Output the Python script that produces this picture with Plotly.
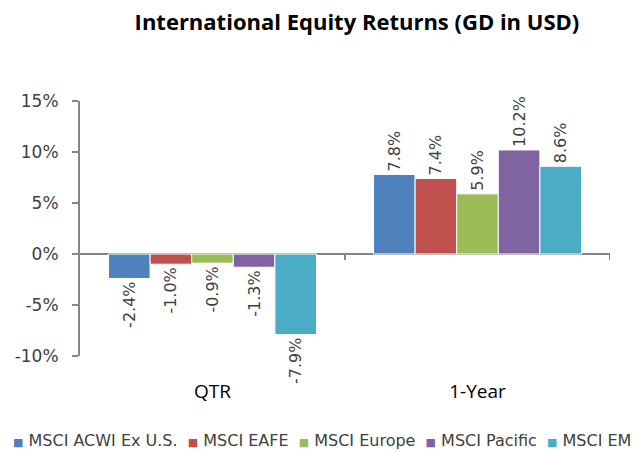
import plotly.graph_objects as go

categories = ["QTR", "1-Year"]
series_names = ["MSCI ACWI Ex U.S.", "MSCI EAFE", "MSCI Europe", "MSCI Pacific", "MSCI EM"]
series_values = [
    [-2.4, 7.8],
    [-1.0, 7.4],
    [-0.9, 5.9],
    [-1.3, 10.2],
    [-7.9, 8.6],
]
colors = ["#4F81BD", "#C0504D", "#9BBB59", "#8064A2", "#4BACC6"]
y_ticks = [-10, -5, 0, 5, 10, 15]

font_family = "DejaVu Sans, Liberation Sans, sans-serif"
text_color = "#404040"
axis_color = "#868686"

fig = go.Figure()
for name, vals, col in zip(series_names, series_values, colors):
    fig.add_trace(go.Bar(
        x=categories, y=vals, name=name,
        marker=dict(color=col, line=dict(color="white", width=1)),
        text=[f"{v:.1f}%" for v in vals],
        textposition="outside", textangle=-90, constraintext="none",
        textfont=dict(size=16, color=text_color, family=font_family),
        cliponaxis=False, showlegend=False,
    ))

# boundary tick marks on the zero line
for xb in [0.5, 1.5]:
    fig.add_shape(type="line", xref="x", yref="y", x0=xb, x1=xb, y0=0, y1=-0.6,
                  line=dict(color=axis_color, width=2))

# legend drawn as a single line of text (bottom, like the reference)
legend_parts = []
for name, col in zip(series_names, colors):
    legend_parts.append(f"<span style='color:{col};font-size:11px'>■</span> {name}")
legend_text = "  ".join(legend_parts)
fig.add_annotation(
    text=legend_text, xref="paper", yref="paper", x=0.457, y=-0.333,
    xanchor="center", yanchor="middle", showarrow=False,
    font=dict(size=16, color=text_color, family=font_family),
)

fig.update_layout(
    width=642, height=453,
    margin=dict(l=80, r=32, t=101, b=97, autoexpand=False),
    paper_bgcolor="white", plot_bgcolor="white",
    barmode="group", bargap=0.215, bargroupgap=0,
    title=dict(text="<b>International Equity Returns (GD in USD)</b>",
               x=0.556, xanchor="center", y=0.951, yanchor="middle",
               font=dict(size=22, color="#000000", family="Open Sans, sans-serif")),
    showlegend=False,
    font=dict(family=font_family, color=text_color),
)
fig.update_xaxes(
    showline=False, showgrid=False, zeroline=False,
    ticks="outside", ticklen=18, tickcolor="rgba(0,0,0,0)",
    tickfont=dict(size=19, color="#000000", family="Open Sans, sans-serif"),
    range=[-0.5, 1.5],
)
fig.update_yaxes(
    range=[-10, 15], tickvals=y_ticks, ticktext=[f"{t}%" for t in y_ticks],
    showgrid=False, showline=True, linecolor=axis_color, linewidth=2,
    ticks="outside", ticklen=6, tickcolor=axis_color, tickwidth=2,
    ticklabelstandoff=10,
    zeroline=True, zerolinecolor=axis_color, zerolinewidth=2,
    tickfont=dict(size=17, color=text_color, family=font_family),
)

fig.write_html("out.html", config={"displayModeBar": False},
               post_script="document.body.style.margin='0px';")
